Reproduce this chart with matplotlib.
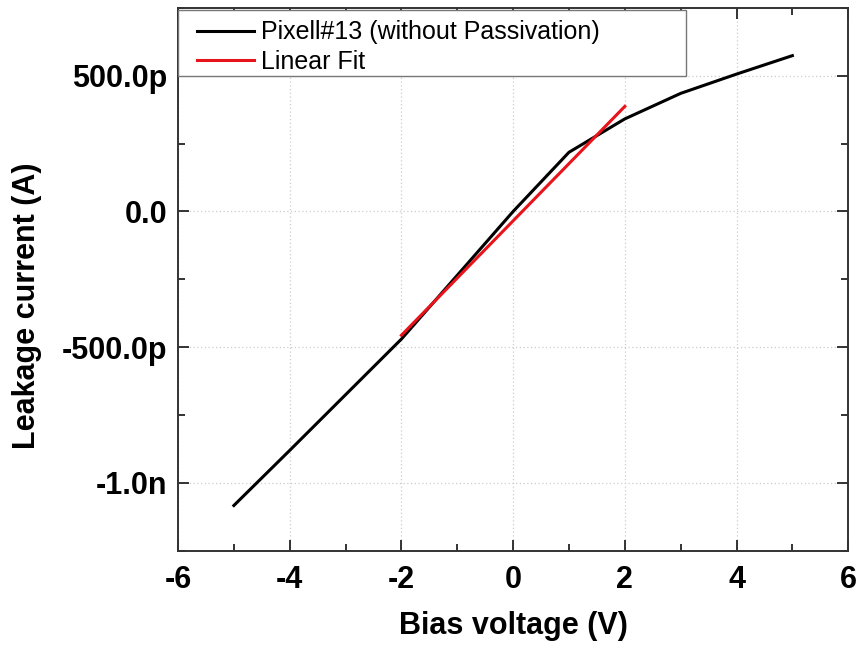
import numpy as np
import matplotlib.pyplot as plt
from matplotlib.ticker import FixedLocator, MultipleLocator
from matplotlib.patches import Rectangle

plt.rcParams['font.family'] = ['Liberation Sans', 'DejaVu Sans']

# measured data (bias voltage in V, leakage current in A)
bias_v = [-5, -4, -3, -2, -1, 0, 1, 2, 3, 4, 5]
leak_a = [-1083e-12, -880e-12, -675e-12, -470e-12, -235e-12, 0.0,
          218e-12, 341e-12, 435e-12, 506e-12, 574e-12]

# linear fit segment
fit_v = [-2, 2]
fit_a = [-456e-12, 387e-12]

xticks = [-6, -4, -2, 0, 2, 4, 6]
yticks = [-1000e-12, -500e-12, 0.0, 500e-12]
ytick_labels = ['-1.0n', '-500.0p', '0.0', '500.0p']

fig = plt.figure(figsize=(8.62, 6.55), dpi=100)
ax = fig.add_axes([0.2065, 0.159, 0.7775, 0.829])

ax.plot(bias_v, leak_a, color='black', lw=2.2, label='Pixell#13 (without Passivation)')
ax.plot(fit_v, fit_a, color='#e8141b', lw=2.2, label='Linear Fit')

ax.set_xlim(-6, 6)
ax.set_ylim(-1250e-12, 750e-12)
ax.xaxis.set_major_locator(FixedLocator(xticks))
ax.xaxis.set_minor_locator(MultipleLocator(1))
ax.yaxis.set_major_locator(FixedLocator(yticks))
ax.yaxis.set_minor_locator(MultipleLocator(250e-12))
ax.set_xticklabels([str(t) for t in xticks])
ax.set_yticklabels(ytick_labels)

ax.tick_params(which='both', direction='in', top=True, right=True, width=1.4, color='#333333')
ax.tick_params(which='major', length=8, labelsize=22)
ax.tick_params(axis='x', which='major', pad=10)
ax.tick_params(axis='y', which='major', pad=8)
ax.tick_params(which='minor', length=5)
for lab in ax.get_xticklabels() + ax.get_yticklabels():
    lab.set_fontweight('bold')
for sp in ax.spines.values():
    sp.set_linewidth(1.4)
    sp.set_color('#333333')

ax.grid(True, which='major', linestyle=(0, (1, 2)), color='#cccccc', lw=0.9)

ax.set_xlabel('Bias voltage (V)', fontsize=22, fontweight='bold', labelpad=12)
ax.set_ylabel('Leakage current (A)', fontsize=22, fontweight='bold')
ax.yaxis.set_label_coords(-0.203, 0.451)

# legend box drawn separately (Origin style, wide frame)
frame = Rectangle((0.0, 0.875), 0.758, 0.121, transform=ax.transAxes,
                  facecolor='white', edgecolor='#777777', lw=1.0, zorder=4)
ax.add_patch(frame)
leg = ax.legend(loc='upper left', bbox_to_anchor=(0.028, 0.977), fontsize=18,
                frameon=False, borderpad=0, borderaxespad=0,
                handlelength=2.3, handletextpad=0.25, labelspacing=0.22)
leg.set_zorder(5)

plt.savefig('out.png', dpi=100)
